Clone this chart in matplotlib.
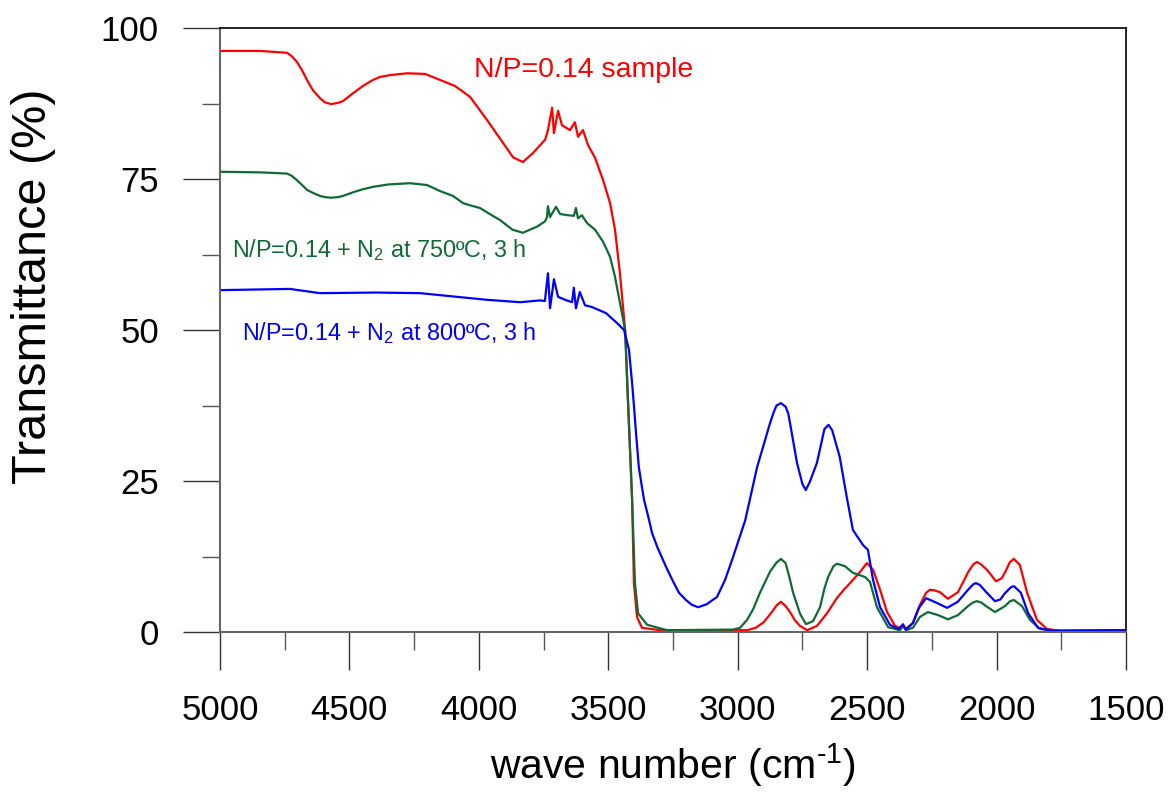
import numpy as np
import matplotlib
matplotlib.use("Agg")
from matplotlib import pyplot as plt
from matplotlib.ticker import MultipleLocator

plt.rcParams['font.family'] = ['Liberation Sans', 'DejaVu Sans']
plt.rcParams['mathtext.fontset'] = 'custom'
plt.rcParams['mathtext.rm'] = 'Liberation Sans'
plt.rcParams['mathtext.it'] = 'Liberation Sans:italic'

# N/P=0.14 sample (red)
red_w = [5000, 4845, 4741, 4722, 4703, 4683, 4664, 4641, 4614, 4595, 4571, 4544, 4525,
         4486, 4448, 4409, 4382, 4343, 4278, 4208, 4150, 4092, 4034, 4003, 3969, 3907,
         3868, 3830, 3791, 3744, 3733, 3717, 3710, 3694, 3679, 3648, 3629, 3617, 3598,
         3578, 3551, 3520, 3493, 3474, 3455, 3435, 3424, 3408, 3401, 3389, 3370, 3300,
         2964, 2930, 2900, 2868, 2850, 2833, 2815, 2798, 2780, 2759, 2732, 2694, 2655,
         2617, 2590, 2566, 2528, 2501, 2477, 2450, 2423, 2392, 2370, 2362, 2350, 2323,
         2296, 2272, 2257, 2240, 2219, 2188, 2149, 2125, 2110, 2090, 2076, 2060, 2037,
         2002, 1980, 1967, 1948, 1933, 1910, 1882, 1844, 1805, 1755, 1500]
red_t = [96.2, 96.2, 95.9, 95.3, 94.4, 93.0, 91.4, 89.7, 88.4, 87.7, 87.4, 87.6, 87.9,
         89.2, 90.4, 91.4, 91.9, 92.2, 92.5, 92.4, 91.4, 90.4, 88.6, 86.8, 84.8, 81.0,
         78.6, 77.8, 79.3, 81.5, 83.1, 86.8, 82.6, 86.3, 83.9, 83.1, 84.4, 82.0, 83.1,
         80.6, 78.5, 74.8, 71.0, 66.6, 59.4, 50.0, 38.4, 21.9, 8.1, 2.5, 0.7, 0.3,
         0.3, 0.7, 1.6, 3.3, 4.4, 5.0, 4.3, 3.3, 2.0, 1.0, 0.3, 1.0, 3.1,
         5.6, 7.0, 8.1, 9.9, 11.4, 10.3, 7.0, 3.3, 1.0, 0.6, 1.3, 0.5, 1.5,
         4.5, 6.5, 7.0, 6.9, 6.6, 5.5, 6.6, 8.6, 9.9, 11.2, 11.6, 11.2, 10.3,
         8.4, 8.9, 9.9, 11.6, 12.1, 11.1, 6.5, 2.0, 0.5, 0.2, 0.3]

# N/P=0.14 + N2 at 750 C, 3 h (green)
green_w = [5000, 4845, 4741, 4722, 4703, 4683, 4664, 4641, 4614, 4595, 4571, 4544, 4525,
           4486, 4448, 4409, 4350, 4266, 4200, 4150, 4100, 4061, 4030, 3996, 3950, 3918,
           3870, 3830, 3776, 3744, 3737, 3733, 3725, 3702, 3686, 3656, 3633, 3625, 3617,
           3602, 3582, 3551, 3520, 3493, 3474, 3455, 3435, 3424, 3408, 3397, 3385, 3350,
           3273, 3018, 2991, 2964, 2940, 2914, 2875, 2850, 2833, 2815, 2800, 2786, 2759,
           2736, 2709, 2682, 2665, 2651, 2630, 2617, 2586, 2555, 2508, 2489, 2462, 2419,
           2373, 2362, 2350, 2323, 2296, 2265, 2226, 2188, 2149, 2110, 2090, 2076, 2060,
           2041, 2006, 1967, 1948, 1933, 1902, 1871, 1832, 1755, 1500]
green_t = [76.2, 76.1, 75.9, 75.5, 74.8, 74.0, 73.2, 72.7, 72.2, 72.0, 71.9, 72.0, 72.2,
           72.8, 73.3, 73.7, 74.1, 74.3, 74.0, 73.0, 72.2, 71.0, 70.6, 70.2, 69.0, 68.2,
           66.6, 66.1, 67.1, 68.0, 68.7, 70.5, 68.7, 70.4, 69.2, 69.0, 68.9, 70.2, 68.5,
           69.0, 67.7, 66.6, 64.6, 62.1, 58.8, 54.5, 50.0, 38.4, 21.9, 8.1, 3.1, 1.2,
           0.3, 0.4, 0.7, 2.0, 3.8, 6.5, 10.0, 11.5, 12.1, 11.4, 9.0, 6.5, 3.0,
           1.3, 1.8, 4.1, 7.2, 9.1, 10.9, 11.3, 10.9, 9.8, 9.1, 8.3, 4.1, 0.8,
           0.3, 1.0, 0.3, 0.7, 2.5, 3.3, 2.8, 2.1, 2.8, 4.3, 4.9, 5.1, 4.9,
           4.3, 3.3, 4.3, 5.1, 5.3, 4.3, 2.0, 0.5, 0.2, 0.3]

# N/P=0.14 + N2 at 800 C, 3 h (blue)
blue_w = [5000, 4730, 4614, 4400, 4227, 3969, 3840, 3764, 3745, 3733, 3725, 3710, 3694,
          3667, 3640, 3633, 3625, 3610, 3590, 3563, 3509, 3470, 3439, 3420, 3408, 3400,
          3393, 3382, 3370, 3362, 3345, 3331, 3310, 3277, 3250, 3227, 3200, 3177, 3153,
          3120, 3080, 3049, 3018, 2971, 2925, 2875, 2860, 2850, 2833, 2815, 2805, 2798,
          2771, 2750, 2737, 2722, 2694, 2665, 2649, 2635, 2606, 2579, 2555, 2516, 2497,
          2477, 2450, 2412, 2380, 2362, 2350, 2323, 2300, 2272, 2230, 2191, 2150, 2110,
          2090, 2080, 2065, 2040, 2006, 1985, 1970, 1945, 1933, 1906, 1878, 1840, 1790,
          1500]
blue_t = [56.6, 56.8, 56.1, 56.2, 56.1, 55.0, 54.6, 54.9, 54.8, 59.4, 53.6, 58.4, 55.5,
          55.0, 54.6, 57.0, 53.6, 56.3, 54.1, 53.8, 52.8, 51.3, 50.0, 46.7, 41.2, 37.0,
          33.0, 27.3, 24.0, 21.9, 19.0, 16.4, 14.0, 10.8, 8.4, 6.5, 5.3, 4.5, 4.1,
          4.6, 5.8, 8.6, 12.4, 18.5, 27.3, 34.6, 36.5, 37.5, 37.9, 37.3, 36.2, 34.6,
          28.0, 24.5, 23.5, 24.8, 28.0, 33.6, 34.3, 33.4, 29.0, 22.4, 16.9, 14.4, 13.6,
          8.6, 4.1, 1.2, 0.5, 1.2, 0.4, 1.5, 4.0, 5.6, 4.8, 4.0, 5.0, 7.0,
          7.9, 8.1, 7.8, 6.6, 5.1, 5.4, 6.3, 7.4, 7.6, 6.5, 3.1, 0.7, 0.2,
          0.3]

fig = plt.figure(figsize=(11.71, 7.99), dpi=100)
ax = fig.add_axes([220 / 1171, 1 - 632 / 799, 906 / 1171, 604 / 799])

ax.plot(red_w, red_t, color='#ff0000', lw=1.6)
ax.plot(green_w, green_t, color='#0f6b34', lw=1.6)
ax.plot(blue_w, blue_t, color='#0000ff', lw=1.6)

ax.set_xlim(5000, 1500)
ax.set_ylim(0, 100)
ax.xaxis.set_major_locator(MultipleLocator(500))
ax.xaxis.set_minor_locator(MultipleLocator(250))
ax.yaxis.set_major_locator(MultipleLocator(25))
ax.yaxis.set_minor_locator(MultipleLocator(12.5))

ax.tick_params(which='major', direction='out', length=27, width=1, labelsize=25,
               colors='#333333', labelcolor='black')
ax.tick_params(axis='x', which='major', pad=18)
ax.tick_params(axis='y', which='major', pad=17)
ax.tick_params(which='minor', direction='out', length=13, width=1, colors='#555555')
ax.tick_params(top=False, right=False, which='both')

for s in ['left', 'bottom']:
    ax.spines[s].set_color('#666666')
    ax.spines[s].set_linewidth(1.5)
for s in ['top', 'right']:
    ax.spines[s].set_color('black')
    ax.spines[s].set_linewidth(1.2)

ax.set_xlabel('wave number (cm$^{\\text{-1}}$)', fontsize=29.5, labelpad=10)
ax.set_ylabel('Transmittance (%)', fontsize=35)
ax.yaxis.set_label_coords(-0.1815, 0.573)

ax.text(4019, 93.0, 'N/P=0.14 sample', color='#ff0000', fontsize=20.5, va='center')
ax.text(4954, 63.2, 'N/P=0.14 + N$_2$ at 750ºC, 3 h', color='#0f6b34',
        fontsize=16.8, va='center')
ax.text(4915, 49.5, 'N/P=0.14 + N$_2$ at 800ºC, 3 h', color='#0000ff',
        fontsize=16.8, va='center')

fig.savefig('out.png', dpi=100)
